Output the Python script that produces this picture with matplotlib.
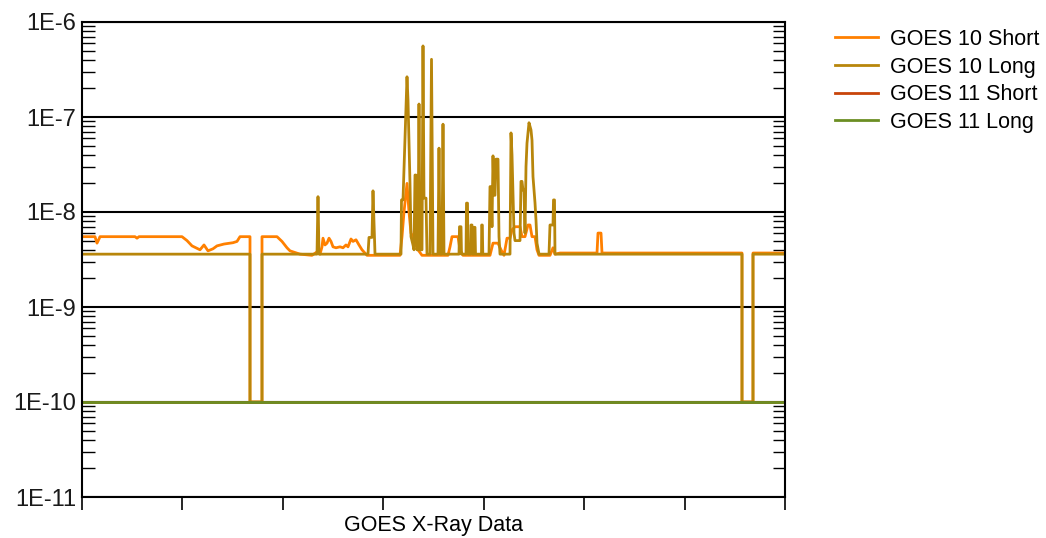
import numpy as np
import matplotlib
matplotlib.use('Agg')
import matplotlib.pyplot as plt
from matplotlib.ticker import FixedLocator, FuncFormatter, LogLocator, NullFormatter

plt.rcParams['font.family'] = ['Liberation Sans', 'DejaVu Sans']

# sample index along the x axis (no tick labels in the original)
N_SAMPLES = 703

# GOES 10 Short (W/m^2)
short10_t = [0, 13, 15, 17, 18, 53, 55, 57, 100, 105, 110, 118, 122, 126, 131, 135, 142, 151, 155, 158,
             168, 168, 180, 180, 195, 200, 205, 208, 218, 230, 235, 238, 240, 241, 243, 245, 247, 249,
             251, 254, 258, 261, 264, 266, 269, 271, 274, 277, 280, 285, 318, 320, 322, 325, 327, 329,
             331, 333, 336, 340, 366, 368, 370, 376, 378, 381, 408, 411, 416, 419, 422, 425, 428, 430,
             433, 438, 440, 443, 446, 448, 450, 453, 455, 457, 468, 471, 473, 478, 515, 516, 519, 520,
             660, 660, 671, 671, 703]
short10_v = [5.5e-9, 5.5e-9, 4.7e-9, 5.2e-9, 5.5e-9, 5.5e-9, 5.3e-9, 5.5e-9, 5.5e-9, 5.0e-9, 4.4e-9,
             4.0e-9, 4.5e-9, 3.9e-9, 4.1e-9, 4.4e-9, 4.6e-9, 4.75e-9, 4.9e-9, 5.5e-9,
             5.5e-9, 1e-10, 1e-10, 5.5e-9, 5.5e-9, 4.9e-9, 4.2e-9, 3.9e-9, 3.6e-9, 3.5e-9, 3.8e-9,
             3.6e-9, 4.3e-9, 5.3e-9, 4.5e-9, 4.7e-9, 5.3e-9, 4.9e-9, 4.3e-9, 4.2e-9, 4.3e-9, 4.2e-9,
             4.5e-9, 4.3e-9, 5.2e-9, 4.9e-9, 5.1e-9, 4.5e-9, 4.0e-9, 3.5e-9, 3.5e-9, 5.5e-9, 1.0e-8,
             2.0e-8, 1.0e-8, 6.0e-9, 5.5e-9, 4.7e-9, 4.0e-9, 3.5e-9, 3.5e-9, 4.3e-9, 5.5e-9, 5.5e-9,
             4.0e-9, 3.5e-9, 3.5e-9, 4.7e-9, 4.7e-9, 4.0e-9, 3.5e-9, 5.3e-9, 5.3e-9, 6.5e-9, 7.0e-9,
             7.0e-9, 5.5e-9, 5.5e-9, 7.3e-9, 7.3e-9, 5.5e-9, 5.5e-9, 4.0e-9, 3.5e-9, 3.5e-9, 4.2e-9,
             3.6e-9, 3.7e-9, 3.7e-9, 6.0e-9, 6.0e-9, 3.7e-9,
             3.7e-9, 1e-10, 1e-10, 3.7e-9, 3.7e-9]

# GOES 10 Long (W/m^2)
long10_t = [0, 168, 168, 180, 180, 235, 236, 237, 286, 287, 290, 291, 293, 319, 319.5, 321, 325, 326,
            328, 329, 331, 332, 333, 334, 335, 336, 337, 338, 340, 341, 342, 344, 345, 348, 349.5, 351,
            356, 357, 358, 360, 361, 362, 377, 377.5, 379, 379.5, 384, 384.5, 385.5, 386, 388.5, 389,
            390, 390.5, 392, 392.3, 393, 393.5, 399.5, 399.7, 400.3, 400.8, 407, 408, 409, 410, 411,
            412, 413, 414, 416, 417, 418, 428, 429, 430, 432, 433, 438, 439, 440, 441, 442, 443, 444,
            445, 447, 449, 450, 451, 453, 454, 455, 457, 467, 468, 471, 471.5, 472.5, 473,
            660, 660, 671, 671, 703]
long10_v = [3.6e-9, 3.6e-9, 1e-10, 1e-10, 3.6e-9, 3.6e-9, 1.45e-8, 3.6e-9, 3.6e-9, 5.4e-9, 5.4e-9,
            1.67e-8, 3.6e-9, 3.6e-9, 1.34e-8, 1.34e-8, 2.65e-7, 1.5e-7, 2.0e-8, 5.5e-9, 4.5e-9,
            4.0e-9, 2.45e-8, 2.45e-8, 4.0e-9, 4.0e-9, 1.37e-7, 4.0e-9, 4.0e-9, 5.6e-7, 1.4e-8,
            1.4e-8, 3.6e-9, 3.6e-9, 4.05e-7, 3.6e-9, 3.6e-9, 4.7e-8, 3.6e-9, 3.6e-9, 8.4e-8, 3.6e-9,
            3.6e-9, 7.0e-9, 7.0e-9, 3.6e-9, 3.6e-9, 1.24e-8, 1.24e-8, 3.6e-9, 3.6e-9, 7.3e-9,
            7.3e-9, 3.6e-9, 3.6e-9, 6.9e-9, 6.9e-9, 3.6e-9, 3.6e-9, 7.3e-9, 7.3e-9, 3.6e-9, 3.6e-9,
            1.85e-8, 1.85e-8, 7.0e-9, 3.9e-8, 1.5e-8, 1.5e-8, 3.6e-8, 3.6e-8, 5.5e-9, 3.6e-9,
            3.6e-9, 6.8e-8, 4.0e-8, 6.0e-9, 5.0e-9, 5.0e-9, 2.1e-8, 2.1e-8, 1.7e-8, 1.7e-8, 6.0e-9,
            3.0e-8, 5.3e-8, 8.7e-8, 7.3e-8, 5.7e-8, 2.35e-8, 1.25e-8, 8.2e-9, 4.7e-9, 3.6e-9,
            3.6e-9, 7.3e-9, 7.3e-9, 1.34e-8, 1.34e-8, 3.6e-9,
            3.6e-9, 1e-10, 1e-10, 3.6e-9, 3.6e-9]

# GOES 11 (no data -> floor value)
short11_t = [0, 703]
short11_v = [1e-10, 1e-10]
long11_t = [0, 703]
long11_v = [1e-10, 1e-10]

labels = ['GOES 10 Short', 'GOES 10 Long', 'GOES 11 Short', 'GOES 11 Long']
colors = ['#ff8000', '#b8860b', '#c8440a', '#6b8e23']

fig = plt.figure(figsize=(10.46, 5.38), dpi=100)
ax = fig.add_axes([82/1046, 41/538, 703/1046, 475/538])

series = [(short10_t, short10_v), (long10_t, long10_v), (short11_t, short11_v), (long11_t, long11_v)]
for (t, v), lab, c in zip(series, labels, colors):
    ax.plot(t, v, color=c, lw=2.0, label=lab)

ax.set_yscale('log')
ax.set_ylim(1e-11, 1e-6)
ax.set_xlim(0, N_SAMPLES)

# y axis: decades labelled 1E-n, inward minor ticks on both sides
ax.yaxis.set_major_locator(FixedLocator([1e-11, 1e-10, 1e-9, 1e-8, 1e-7, 1e-6]))
ax.yaxis.set_major_formatter(FuncFormatter(lambda v, p: '1E%d' % round(np.log10(v))))
ax.yaxis.set_minor_locator(LogLocator(base=10, subs=np.arange(2, 10)))
ax.yaxis.set_minor_formatter(NullFormatter())
ax.tick_params(axis='y', which='major', length=0, pad=4, labelsize=17, colors='#1a1a1a')
ax.tick_params(axis='y', which='minor', direction='in', length=9, width=1, left=True, right=True)

# x axis: unlabeled outward ticks
ax.set_xticks(np.linspace(0, N_SAMPLES, 8))
ax.set_xticklabels([])
ax.tick_params(axis='x', which='major', direction='out', length=9.5, width=1.2)

ax.grid(axis='y', which='major', color='black', lw=1.5)
for s in ax.spines.values():
    s.set_linewidth(1.5)

ax.set_xlabel('GOES X-Ray Data', fontsize=15.5, labelpad=0)

ax.legend(loc='upper left', bbox_to_anchor=(835/1046, 1 - 29/538), bbox_transform=fig.transFigure,
          frameon=False, fontsize=15.5, handlelength=2.0, handletextpad=0.55, labelspacing=0.31,
          borderpad=0, borderaxespad=0)

fig.savefig('out.png', dpi=100)
